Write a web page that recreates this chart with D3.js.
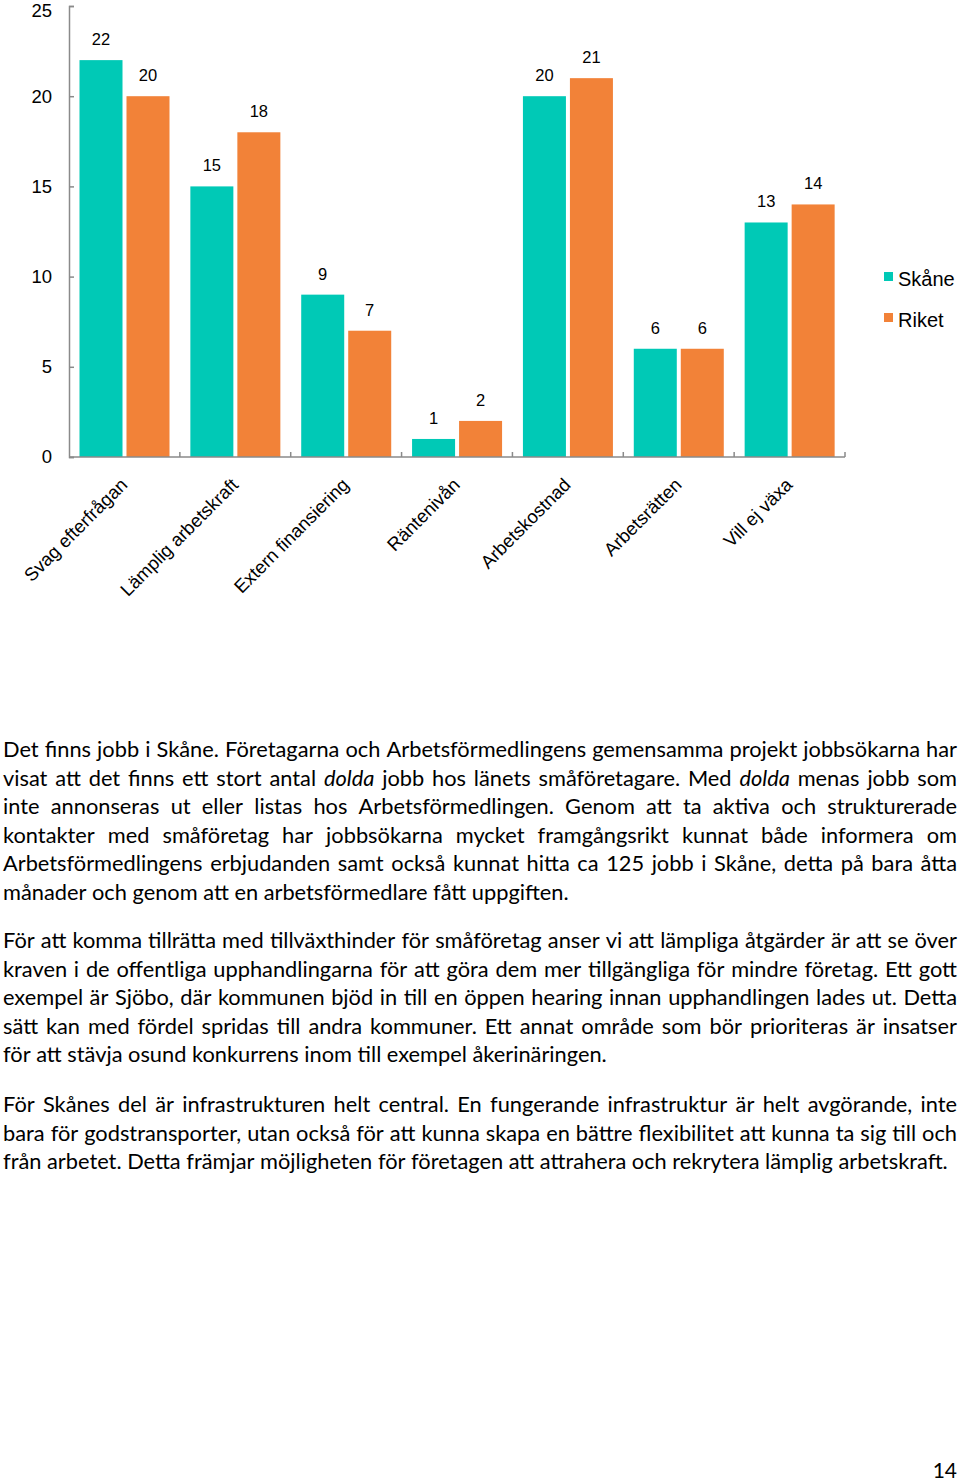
<!DOCTYPE html>
<html><head><meta charset="utf-8">
<script src="https://cdn.jsdelivr.net/npm/d3@7"></script>
<style>body{margin:0;background:#fff} svg{display:block}</style>
</head><body>
<script>
// ---- chart data ----
const categories = ["Svag efterfrågan","Lämplig arbetskraft","Extern finansiering","Räntenivån","Arbetskostnad","Arbetsrätten","Vill ej växa"];
const seriesNames = ["Skåne","Riket"];
const skaneValues = [22,15,9,1,20,6,13];
const riketValues = [20,18,7,2,21,6,14];
const yTickValues = [0,5,10,15,20,25];
const seriesColors = ["#00C9B6","#F28238"];

// ---- body text ----
const paragraph1 = [
 "Det finns jobb i Skåne. Företagarna och Arbetsförmedlingens gemensamma projekt jobbsökarna har",
 "visat att det finns ett stort antal *dolda* jobb hos länets småföretagare. Med *dolda* menas jobb som",
 "inte annonseras ut eller listas hos Arbetsförmedlingen. Genom att ta aktiva och strukturerade",
 "kontakter med småföretag har jobbsökarna mycket framgångsrikt kunnat både informera om",
 "Arbetsförmedlingens erbjudanden samt också kunnat hitta ca 125 jobb i Skåne, detta på bara åtta",
 "månader och genom att en arbetsförmedlare fått uppgiften."
];
const paragraph2 = [
 "För att komma tillrätta med tillväxthinder för småföretag anser vi att lämpliga åtgärder är att se över",
 "kraven i de offentliga upphandlingarna för att göra dem mer tillgängliga för mindre företag. Ett gott",
 "exempel är Sjöbo, där kommunen bjöd in till en öppen hearing innan upphandlingen lades ut. Detta",
 "sätt kan med fördel spridas till andra kommuner. Ett annat område som bör prioriteras är insatser",
 "för att stävja osund konkurrens inom till exempel åkerinäringen."
];
const paragraph3 = [
 "För Skånes del är infrastrukturen helt central. En fungerande infrastruktur är helt avgörande, inte",
 "bara för godstransporter, utan också för att kunna skapa en bättre flexibilitet att kunna ta sig till och",
 "från arbetet. Detta främjar möjligheten för företagen att attrahera och rekrytera lämplig arbetskraft."
];
const pageNumber = "14";

const W = 960, H = 1481;
const svg = d3.select("body").append("svg").attr("width", W).attr("height", H);
const chartFont = "'Liberation Sans', Arial, sans-serif";

const x0 = d3.scaleBand().domain(categories).range([69, 845]);
const x1 = d3.scaleBand().domain(seriesNames).range([10.5, 100.5]).paddingInner(0.085);
const y = d3.scaleLinear().domain([0, 25]).range([457, 6]);
const color = d3.scaleOrdinal().domain(seriesNames).range(seriesColors);

const data = categories.map((c, i) => ({cat: c, vals: [
  {s: "Skåne", v: skaneValues[i]}, {s: "Riket", v: riketValues[i]}]}));

const chart = svg.append("g").attr("font-family", chartFont);

// bars
const groups = chart.selectAll("g.cat").data(data).join("g").attr("class","cat")
  .attr("transform", d => `translate(${x0(d.cat)},0)`);
groups.selectAll("rect").data(d => d.vals).join("rect")
  .attr("x", d => x1(d.s)).attr("width", x1.bandwidth())
  .attr("y", d => y(d.v)).attr("height", d => y(0) - y(d.v))
  .attr("fill", d => color(d.s));
groups.selectAll("text").data(d => d.vals).join("text")
  .attr("x", d => x1(d.s) + x1.bandwidth()/2)
  .attr("y", d => y(d.v) - 15)
  .attr("text-anchor", "middle").attr("font-size", 16.5).attr("fill", "#000")
  .text(d => d.v);

// y axis
const yAxis = chart.append("g").attr("transform", `translate(${x0.range()[0]},0)`)
  .call(d3.axisLeft(y).tickValues(yTickValues).tickSize(-5).tickPadding(17).tickFormat(d3.format("d")));
yAxis.select(".domain").attr("stroke", "#8a8a8a").attr("stroke-width", 1.5);
yAxis.selectAll(".tick line").attr("stroke", "#8a8a8a").attr("stroke-width", 1.5);
yAxis.selectAll(".tick text").attr("font-size", 18.5).attr("font-family", chartFont).attr("fill", "#000")
  .attr("dy", d => d === yTickValues[yTickValues.length - 1] ? "0.58em" : "0.32em");

// x axis
const xAxisG = chart.append("g");
xAxisG.append("line").attr("x1", x0.range()[0]).attr("x2", x0.range()[1])
  .attr("y1", y(0)).attr("y2", y(0)).attr("stroke", "#8a8a8a").attr("stroke-width", 1.5);
xAxisG.selectAll("line.tk").data(categories).join("line").attr("class","tk")
  .attr("x1", d => x0(d) + x0.bandwidth()).attr("x2", d => x0(d) + x0.bandwidth())
  .attr("y1", y(0)).attr("y2", y(0) - 5).attr("stroke", "#8a8a8a").attr("stroke-width", 1.5);
xAxisG.selectAll("text").data(categories).join("text")
  .attr("transform", d => `translate(${x0(d) + x0.bandwidth()/2 + 4},${y(0) + 29}) rotate(-45)`)
  .attr("text-anchor", "end").attr("font-size", 18.5).attr("fill", "#000")
  .text(d => d);

// legend
const legend = chart.append("g").selectAll("g").data(seriesNames).join("g")
  .attr("transform", (d, i) => `translate(884,${272 + i*41})`);
legend.append("rect").attr("width", 9).attr("height", 9).attr("fill", d => color(d));
legend.append("text").attr("x", 14).attr("y", 14).attr("font-size", 20).attr("fill", "#000").text(d => d);

// ---- body text with justified lines ----
const textFont = "Lato, 'Open Sans', sans-serif";
const left = 3, right = 957, width = right - left;
const tg = svg.append("g").attr("font-family", textFont).attr("fill", "#000");
const meas = tg.append("text").attr("x", -1000).attr("y", -1000);
function wordWidth(w, italic, fs) {
  meas.attr("font-size", fs).attr("font-style", italic ? "italic" : "normal").text(w);
  return meas.node().getComputedTextLength();
}
function tokens(line) {
  return line.split(" ").map(t => {
    const it = /^\*.*\*[.,]?$/.test(t);
    return {t: t.replace(/\*/g, ""), it};
  });
}
const blocks = [
  {base: 757, lines: paragraph1},
  {base: 948, lines: paragraph2},
  {base: 1112, lines: paragraph3}
];
let fs = 21.8;
let maxReq = 0;
blocks.forEach(b => b.lines.forEach(l => {
  const tk = tokens(l);
  const sum = d3.sum(tk, k => wordWidth(k.t, k.it, fs));
  const sp = wordWidth("a a", false, fs) - wordWidth("aa", false, fs);
  maxReq = Math.max(maxReq, sum + (tk.length - 1) * sp * 0.8);
}));
if (maxReq > width) fs = fs * width / maxReq;
const spaceW = wordWidth("a a", false, fs) - wordWidth("aa", false, fs);
const lh = 28.5;
blocks.forEach(b => {
  b.lines.forEach((l, li) => {
    const tk = tokens(l);
    const widths = tk.map(k => wordWidth(k.t, k.it, fs));
    const sum = d3.sum(widths);
    const isLast = li === b.lines.length - 1;
    let gap = isLast ? spaceW : (width - sum) / (tk.length - 1);
    if (isLast && sum + gap * (tk.length - 1) > width) gap = (width - sum) / (tk.length - 1);
    let x = left;
    const ly = b.base + li * lh;
    tk.forEach((k, i) => {
      tg.append("text").attr("x", x).attr("y", ly).attr("font-size", fs)
        .attr("font-style", k.it ? "italic" : "normal").text(k.t);
      x += widths[i] + gap;
    });
  });
});
meas.remove();

svg.append("text").attr("x", 957).attr("y", 1478).attr("text-anchor", "end")
  .attr("font-family", textFont).attr("font-size", 21).attr("fill", "#000").text(pageNumber);
</script>
</body></html>
